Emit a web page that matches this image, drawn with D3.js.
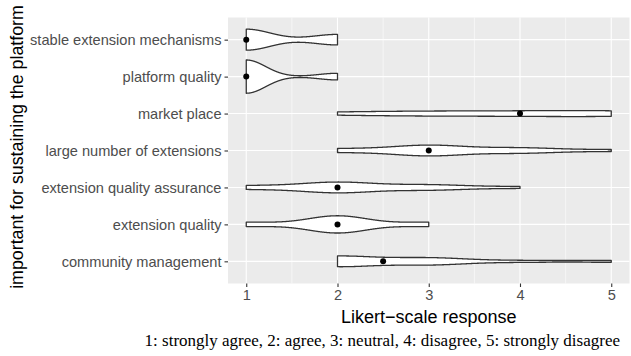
<!DOCTYPE html>
<html>
<head>
<meta charset="UTF-8">
<title>Violin plot</title>
<script src="https://cdn.jsdelivr.net/npm/d3@7"></script>
<style>
    html, body { margin: 0; padding: 0; background: #fff; }
    svg { display: block; }
</style>
</head>
<body>
<div id="chart"></div>
<script>
    // categories top to bottom
    const categories = [
        "stable extension mechanisms",
        "platform quality",
        "market place",
        "large number of extensions",
        "extension quality assurance",
        "extension quality",
        "community management"
    ];
    // number of answers for response 1..5 (estimated from the violins)
    const responseCounts = [
        [8, 4, 0, 0, 0],
        [10, 2, 0, 0, 0],
        [0, 2, 3, 3, 4],
        [0, 2, 6, 3, 1],
        [2, 6, 3, 1, 0],
        [2, 8, 2, 0, 0],
        [0, 6, 4, 1, 1]
    ];
    const xTicks = [1, 2, 3, 4, 5];
    const xMinor = [1.5, 2.5, 3.5, 4.5];
    const xTitle = "Likert\u2212scale response";
    const yTitle = "important for sustaining the platform";
    const caption = "1: strongly agree, 2: agree, 3: neutral, 4: disagree, 5: strongly disagree";

    const W = 631, H = 356;
    const panel = {left: 228, right: 629.5, top: 17.5, bottom: 283.5};
    const sans = "'Liberation Sans', Arial, sans-serif";

    const svg = d3.select("#chart").append("svg")
        .attr("width", W)
        .attr("height", H);

    const x = d3.scaleLinear()
        .domain([0.8, 5.2])
        .range([panel.left, panel.right]);

    const y = d3.scalePoint()
        .domain(categories)
        .range([panel.top, panel.bottom])
        .padding(0.6);

    // R's bw.nrd0
    function bwNrd0(v) {
        const s = d3.deviation(v);
        const sorted = v.slice().sort(d3.ascending);
        const iqr = d3.quantileSorted(sorted, 0.75) - d3.quantileSorted(sorted, 0.25);
        let lo = Math.min(s, iqr / 1.34);
        if (!lo) lo = s || Math.abs(v[0]) || 1;
        return 0.9 * lo * Math.pow(v.length, -0.2);
    }

    function kde(v) {
        const bw = bwNrd0(v);
        const lo = d3.min(v), hi = d3.max(v);
        const n = 512;
        const pts = [];
        for (let i = 0; i < n; i++) {
            const t = lo + (hi - lo) * i / (n - 1);
            let s = 0;
            v.forEach(d => {
                const z = (t - d) / bw;
                s += Math.exp(-0.5 * z * z);
            });
            pts.push({v: t, d: s / (v.length * bw * Math.sqrt(2 * Math.PI))});
        }
        return pts;
    }

    const groups = categories.map((c, i) => {
        const values = [];
        responseCounts[i].forEach((n, k) => {
            for (let j = 0; j < n; j++) values.push(k + 1);
        });
        return {cat: c, values: values, dens: kde(values), median: d3.median(values)};
    });
    const maxDens = d3.max(groups, g => d3.max(g.dens, p => p.d));
    const step = y.step();

    // panel
    svg.append("rect")
        .attr("x", panel.left)
        .attr("y", panel.top)
        .attr("width", panel.right - panel.left)
        .attr("height", panel.bottom - panel.top)
        .attr("fill", "#EBEBEB");

    const grid = svg.append("g");
    grid.selectAll(".minor").data(xMinor).enter().append("line")
        .attr("x1", d => x(d)).attr("x2", d => x(d))
        .attr("y1", panel.top).attr("y2", panel.bottom)
        .attr("stroke", "#fff").attr("stroke-width", 0.55);
    grid.selectAll(".majx").data(xTicks).enter().append("line")
        .attr("x1", d => x(d)).attr("x2", d => x(d))
        .attr("y1", panel.top).attr("y2", panel.bottom)
        .attr("stroke", "#fff").attr("stroke-width", 1.1);
    grid.selectAll(".majy").data(categories).enter().append("line")
        .attr("x1", panel.left).attr("x2", panel.right)
        .attr("y1", d => y(d)).attr("y2", d => y(d))
        .attr("stroke", "#fff").attr("stroke-width", 1.1);

    // violins
    groups.forEach(g => {
        const cy = y(g.cat);
        const hw = d => 0.45 * step * d.d / maxDens;
        const area = d3.area()
            .x(d => x(d.v))
            .y0(d => cy - hw(d))
            .y1(d => cy + hw(d));
        svg.append("path")
            .datum(g.dens)
            .attr("d", area)
            .attr("fill", "#fff")
            .attr("stroke", "#333333")
            .attr("stroke-width", 1.3)
            .attr("stroke-linejoin", "round");
    });

    svg.selectAll(".med").data(groups).enter().append("circle")
        .attr("cx", d => x(d.median))
        .attr("cy", d => y(d.cat))
        .attr("r", 3)
        .attr("fill", "#000");

    // axes
    const xAxis = svg.append("g")
        .attr("transform", "translate(0," + panel.bottom + ")")
        .call(d3.axisBottom(x).tickValues(xTicks).tickSize(3.5).tickPadding(3).tickFormat(d3.format("d")));
    const yAxis = svg.append("g")
        .attr("transform", "translate(" + panel.left + ",0)")
        .call(d3.axisLeft(y).tickSize(3.5).tickPadding(3));
    [xAxis, yAxis].forEach(a => {
        a.select(".domain").remove();
        a.selectAll(".tick line").attr("stroke", "#333333").attr("stroke-width", 1.1);
        a.selectAll(".tick text")
            .attr("fill", "#4D4D4D")
            .style("font-family", sans)
            .style("font-size", "14.6px");
    });

    svg.append("text")
        .attr("x", (panel.left + panel.right) / 2)
        .attr("y", 323)
        .attr("text-anchor", "middle")
        .style("font-family", sans)
        .style("font-size", "18px")
        .attr("fill", "#000")
        .text(xTitle);

    svg.append("text")
        .attr("transform", "translate(22.5," + 147 + ") rotate(-90)")
        .attr("text-anchor", "middle")
        .style("font-family", sans)
        .style("font-size", "17.8px")
        .attr("fill", "#000")
        .text(yTitle);

    svg.append("text")
        .attr("x", 620)
        .attr("y", 346)
        .attr("text-anchor", "end")
        .style("font-family", "'Liberation Serif', 'DejaVu Serif', serif")
        .style("font-size", "17px")
        .attr("fill", "#000")
        .text(caption);
</script>
</body>
</html>
